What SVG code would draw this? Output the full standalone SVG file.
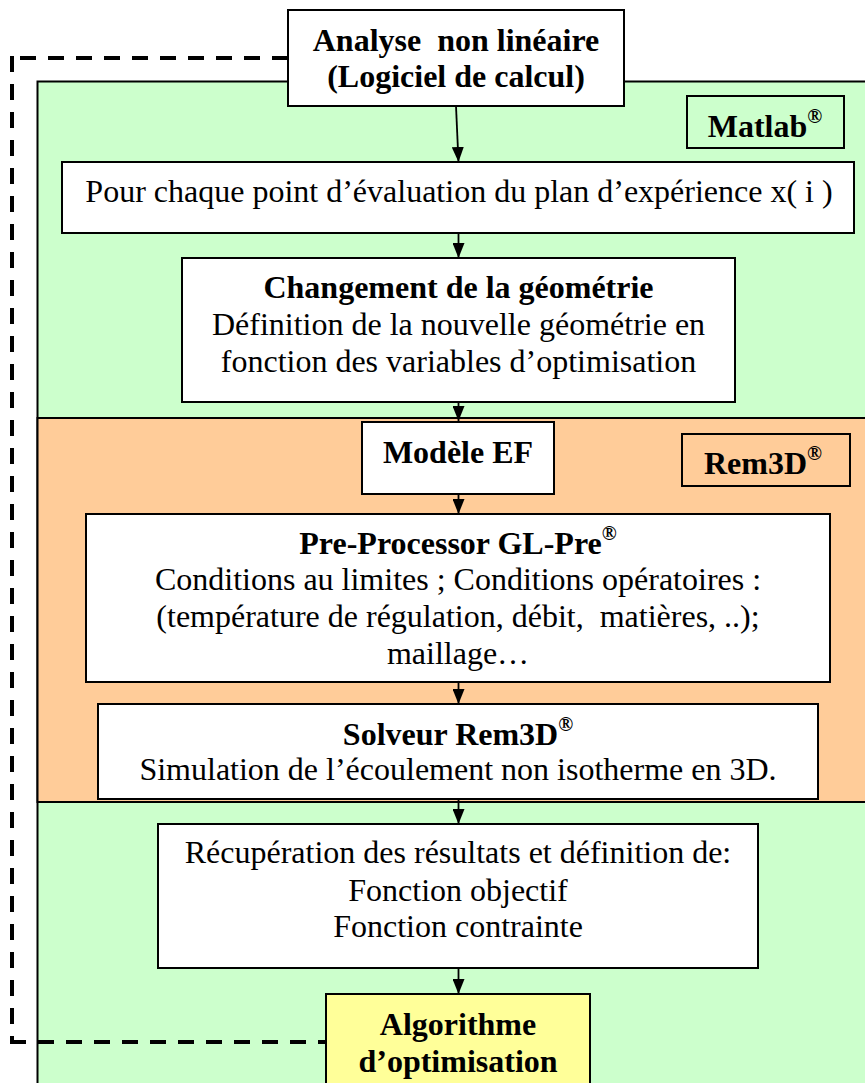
<svg xmlns="http://www.w3.org/2000/svg" width="865" height="1083" viewBox="0 0 865 1083">
<defs>
<style>
.box{stroke:#000;stroke-width:2;}
.w{fill:#fff;}
.t{font-family:'Liberation Serif','Times New Roman',serif;font-size:32px;fill:#000;text-anchor:middle;}
.b{font-weight:bold;}
.sup{font-size:20px;}
.arr{stroke:#000;stroke-width:1.8;fill:none;marker-end:url(#ah);}
.dash{stroke:#000;stroke-width:4;fill:none;}
</style>
<marker id="ah" viewBox="0 0 15 12" refX="15" refY="6" markerWidth="15" markerHeight="12" markerUnits="userSpaceOnUse" orient="auto">
<path d="M0,0 L15,6 L0,12 z" fill="#000"/>
</marker>
</defs>
<rect x="0" y="0" width="865" height="1083" fill="#fff"/>
<g id="panel-matlab">
<rect class="box" x="37.5" y="81.5" width="840" height="1020" fill="#CCFFCC"/>
</g>
<g id="panel-rem3d">
<rect class="box" x="37.5" y="418" width="840" height="384" fill="#FFCC99"/>
</g>
<g id="connectors">
<g class="dash" stroke-dasharray="16 12">
<line x1="288" y1="58" x2="10" y2="58"/>
<line x1="12" y1="56" x2="12" y2="1044"/>
<line x1="10" y1="1042" x2="326" y2="1042"/>
</g>
<path class="arr" d="M456,106 L458.5,162"/>
<path class="arr" d="M458.5,233 L458.5,258"/>
<path class="arr" d="M458.5,402 L458.5,421"/>
<path class="arr" d="M458.5,494 L458.5,514"/>
<path class="arr" d="M458.5,682 L458.5,704"/>
<path class="arr" d="M458.5,799 L458.5,824"/>
<path class="arr" d="M458.5,968 L458.5,994"/>
</g>
<g id="analyse">
<rect class="box w" x="288" y="10" width="336" height="96"/>
<text class="t b" x="456" y="51" xml:space="preserve">Analyse  non linéaire</text>
<text class="t b" x="456" y="87">(Logiciel de calcul)</text>
</g>
<g id="matlab">
<rect class="box" x="687" y="96" width="157" height="52" fill="#CCFFCC"/>
<text class="t b" x="765" y="137">Matlab<tspan class="sup" dy="-14">®</tspan></text>
</g>
<g id="pour-chaque">
<rect class="box w" x="62" y="162" width="792" height="71"/>
<text class="t" x="459" y="202">Pour chaque point d’évaluation du plan d’expérience x( i )</text>
</g>
<g id="changement">
<rect class="box w" x="182" y="258" width="553" height="144"/>
<text class="t b" x="458.5" y="298">Changement de la géométrie</text>
<text class="t" x="458.5" y="335">Définition de la nouvelle géométrie en</text>
<text class="t" x="458.5" y="372">fonction des variables d’optimisation</text>
</g>
<g id="modele-ef">
<rect class="box w" x="362" y="422" width="192" height="72"/>
<text class="t b" x="458" y="463">Modèle EF</text>
</g>
<g id="rem3d">
<rect class="box" x="682" y="434" width="168" height="52" fill="#FFCC99"/>
<text class="t b" x="763" y="474">Rem3D<tspan class="sup" dy="-14">®</tspan></text>
</g>
<g id="pre-processor">
<rect class="box w" x="86" y="514" width="744" height="168"/>
<text class="t b" x="458" y="554">Pre-Processor GL-Pre<tspan class="sup" dy="-14">®</tspan></text>
<text class="t" x="458" y="590">Conditions au limites ; Conditions opératoires :</text>
<text class="t" x="458" y="627" xml:space="preserve">(température de régulation, débit,  matières, ..);</text>
<text class="t" x="458" y="664">maillage…</text>
</g>
<g id="solveur">
<rect class="box w" x="98" y="704" width="720" height="95"/>
<text class="t b" x="458" y="745">Solveur Rem3D<tspan class="sup" dy="-14">®</tspan></text>
<text class="t" x="458" y="780">Simulation de l’écoulement non isotherme en 3D.</text>
</g>
<g id="recuperation">
<rect class="box w" x="158" y="824" width="600" height="144"/>
<text class="t" x="458" y="863">Récupération des résultats et définition de:</text>
<text class="t" x="458" y="901">Fonction objectif</text>
<text class="t" x="458" y="937">Fonction contrainte</text>
</g>
<g id="algorithme">
<rect class="box" x="326" y="994" width="264" height="110" fill="#FFFF99"/>
<text class="t b" x="458" y="1035">Algorithme</text>
<text class="t b" x="458" y="1072">d’optimisation</text>
</g>
</svg>
